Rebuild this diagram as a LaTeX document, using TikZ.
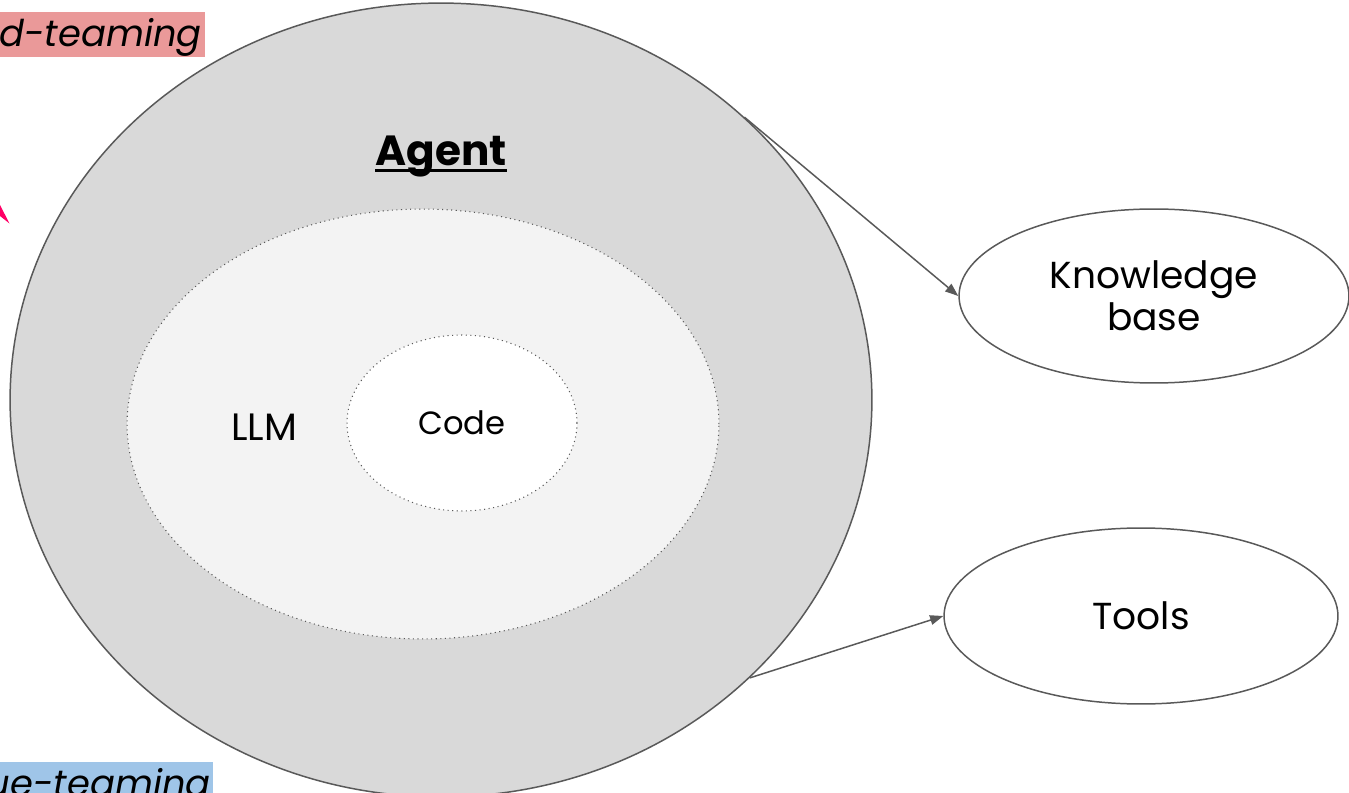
\documentclass[tikz,border=0pt]{standalone}
\usepackage{fontspec}
\setmainfont{Poppins}
\usepackage{tikz}
\usetikzlibrary{arrows.meta}
\usetikzlibrary{shapes.geometric}

\definecolor{edge}{HTML}{595959}
\definecolor{agentfill}{HTML}{D9D9D9}
\definecolor{llmfill}{HTML}{F3F3F3}
\definecolor{redteam}{HTML}{EA9999}
\definecolor{blueteam}{HTML}{9FC5E8}
\definecolor{hotpink}{HTML}{FF0066}

\tikzset{
    blob/.style = {ellipse, draw=edge, inner sep=0pt, line width=0.85pt},
    layer/.style = {ellipse, draw=edge, dotted, inner sep=0pt, line width=0.6pt},
    part/.style = {blob, fill=white, align=center, font=\fontsize{21.4}{24}\selectfont},
    tag/.style = {anchor=base east, inner sep=0, font=\fontsize{21}{26}\selectfont\itshape},
    link/.style = {draw=edge, line width=0.85pt, -{Triangle[length=7.5pt,width=5.5pt]}},
}

\begin{document}
\begin{tikzpicture} [x=0.02cm, y=-0.02cm]
    \useasboundingbox (0,0) rectangle (1349,793);
    \clip (0,0) rectangle (1349,793);
    % team tags cut off at the left edge
    \fill[redteam] (0,12) rectangle (205,57);
    \node[tag] (red) at (202,47) {Red-teaming};
    \fill[blueteam] (0,762) rectangle (213,800);
    \node[tag] (blue) at (211,796) {Blue-teaming};
    \fill[hotpink] (0,205) -- (9.5,223.5) -- (0,216) -- cycle;
    % nested layers
    \node[blob, fill=agentfill, minimum width=17.24cm, minimum height=15.88cm] (agent) at (441,400) {};
    \node[layer, fill=llmfill, minimum width=11.84cm, minimum height=8.6cm] (llm) at (423,424) {};
    \node[layer, fill=white, minimum width=4.6cm, minimum height=3.52cm, font=\fontsize{18.3}{22}\selectfont] (code) at (462,423) {Code};
    \node[font=\fontsize{21.7}{25}\selectfont] (llmlabel) at (264,427) {LLM};
    \node[anchor=base, inner sep=0, font=\fontsize{24}{28}\selectfont\bfseries] (agentlabel) at (441,166) {Agent};
    \draw[line width=1.9pt] ([yshift=-2.7pt]agentlabel.base west) -- ([yshift=-2.7pt]agentlabel.base east);
    % external resources
    \node[part, minimum width=7.8cm, minimum height=3.48cm] (kb) at (1154,296) {Knowledge\\base};
    \node[part, minimum width=7.88cm, minimum height=3.52cm] (tools) at (1141,616) {Tools};
    \draw[link] (agent.43) -- (kb.west);
    \draw[link] (agent.-42) -- (tools.west);
\end{tikzpicture}
\end{document}
